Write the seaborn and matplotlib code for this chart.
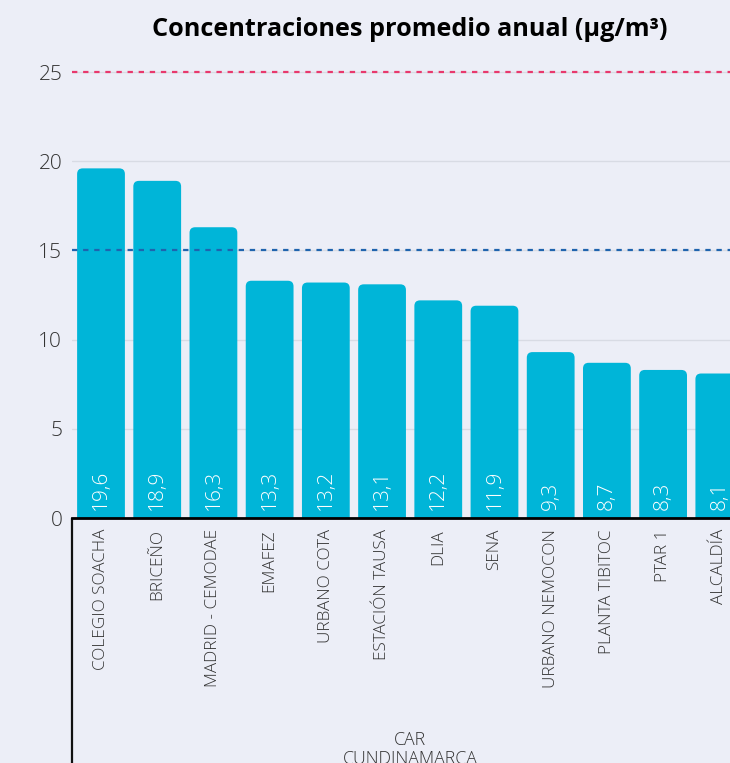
import matplotlib
matplotlib.use("Agg")
import matplotlib.pyplot as plt
import matplotlib.transforms as mtransforms
from matplotlib.patches import FancyBboxPatch
import pandas as pd
import seaborn as sns

# Annual mean concentrations per monitoring station (µg/m³)
stations = ["COLEGIO SOACHA", "BRICEÑO", "MADRID - CEMODAE", "EMAFEZ", "URBANO COTA",
            "ESTACIÓN TAUSA", "DLIA", "SENA", "URBANO NEMOCON", "PLANTA TIBITOC",
            "PTAR 1", "ALCALDÍA"]
values = [19.6, 18.9, 16.3, 13.3, 13.2, 13.1, 12.2, 11.9, 9.3, 8.7, 8.3, 8.1]
group_label = "CAR\nCUNDINAMARCA"
yticks = [0, 5, 10, 15, 20, 25]
limit_high = 25
limit_low = 15

BG = "#ECEEF7"
BAR = "#00B5D8"
TXT = "#333333"
RED = "#E8386D"
BLUE = "#1F64AE"

sns.set_theme(style="whitegrid")
plt.rcParams["font.family"] = ["Open Sans", "DejaVu Sans"]

df = pd.DataFrame({"station": stations, "value": values})

W, H = 730, 763
fig = plt.figure(figsize=(W / 100, H / 100), dpi=100, facecolor=BG)
ax = fig.add_axes([72 / W, (H - 518) / H, 1 - 72 / W, 463.8 / H])
ax.set_facecolor(BG)

sns.barplot(data=df, x="station", y="value", color=BAR, width=0.85,
            saturation=1, ax=ax, zorder=2)

ax.set_xlim(-0.516, 11.19)
ax.set_ylim(0, 26)

# round the top corners of each bar
fig.canvas.draw()
px_x = ax.transData.transform((1, 0))[0] - ax.transData.transform((0, 0))[0]
px_y = ax.transData.transform((0, 1))[1] - ax.transData.transform((0, 0))[1]
aspect = px_x / px_y
for p in list(ax.patches):
    x0, w, h = p.get_x(), p.get_width(), p.get_height()
    rounded = FancyBboxPatch((x0, -1), w, h + 1,
                             boxstyle="round,pad=0,rounding_size=0.1",
                             mutation_aspect=aspect,
                             facecolor=BAR, edgecolor="none", zorder=2)
    p.remove()
    ax.add_patch(rounded)

# value labels inside bars
for i, v in enumerate(values):
    ax.text(i, 0.45, f"{v:.1f}".replace(".", ","), rotation=90, ha="center",
            va="bottom", color="white", fontsize=15, fontweight="light", zorder=4)

# reference limits
ax.axhline(limit_high, color=RED, lw=1.6, dashes=(2.4, 2.6), zorder=3)
ax.axhline(limit_low, color=BLUE, lw=1.6, dashes=(2.4, 2.6), zorder=3)

ax.set_yticks(yticks)
ax.set_yticklabels([str(t) for t in yticks], fontsize=15, color=TXT, fontweight="light")
ax.tick_params(axis="y", length=0, pad=7)
ax.tick_params(axis="x", length=0, pad=8)
ax.set_xticks(range(len(stations)))
ax.set_xticklabels(stations, rotation=90, fontsize=12.3, color=TXT, va="top",
                   ha="center", fontweight="light")
ax.set_xlabel("")
ax.set_ylabel("")
ax.grid(axis="x", visible=False)
ax.grid(axis="y", color="#D8DBE4", lw=1.0)
ax.set_axisbelow(True)
for s in ["left", "right", "top"]:
    ax.spines[s].set_visible(False)
ax.spines["bottom"].set_color("black")
ax.spines["bottom"].set_linewidth(2.0)
ax.spines["bottom"].set_zorder(5)

# group separator and group label below the category labels
ax.plot([0, 0], [0, -0.6], transform=ax.transAxes, color="#111111", lw=1.6,
        clip_on=False, solid_capstyle="butt")
trans = mtransforms.blended_transform_factory(ax.transData, ax.transAxes)
ax.text(5.5, -0.46, group_label, transform=trans, ha="center", va="top",
        fontsize=12.8, color=TXT, linespacing=1.08, fontweight="light")

# title centered over the full set of stations
ax.text(5.5, 1 + (54 - 29) / 463.8, "Concentraciones promedio anual (µg/m³)",
        transform=trans, ha="center", va="center", fontsize=18.2,
        fontweight="bold", color="black")

fig.savefig("out.png", dpi=100, facecolor=BG)
